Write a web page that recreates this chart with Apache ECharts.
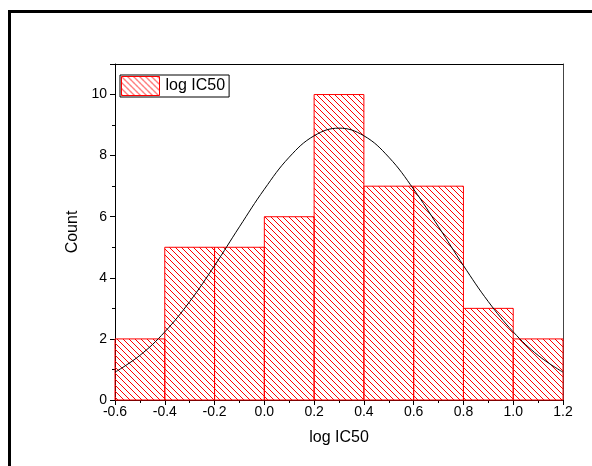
<!DOCTYPE html>
<html><head><meta charset="utf-8">
<script src="https://cdn.jsdelivr.net/npm/echarts@6/dist/echarts.min.js"></script>
<style>html,body{margin:0;padding:0;background:#fff}#c{width:592px;height:466px}</style>
</head><body><div id="c"></div>
<script>
// histogram bins
const binStarts = [-0.6, -0.4, -0.2, 0.0, 0.2, 0.4, 0.6, 0.8, 1.0];
const binEnds   = [-0.4, -0.2, 0.0, 0.2, 0.4, 0.6, 0.8, 1.0, 1.2];
const counts    = [2, 5, 5, 6, 10, 7, 7, 3, 2];
// fitted curve
const curveX = [-0.6, -0.5, -0.4, -0.3, -0.2, -0.1, 0.0, 0.1, 0.2, 0.3, 0.4, 0.5, 0.6, 0.7, 0.8, 0.9, 1.0, 1.1, 1.2];
const curveY = [0.91, 1.46, 2.23, 3.22, 4.40, 5.67, 6.90, 7.95, 8.65, 8.90, 8.65, 7.95, 6.90, 5.67, 4.40, 3.22, 2.23, 1.46, 0.91];
const xTicks = [-0.6, -0.4, -0.2, 0.0, 0.2, 0.4, 0.6, 0.8, 1.0, 1.2];
const yTicks = [0, 2, 4, 6, 8, 10];

function hatch() {
  const s = 6;
  const cv = document.createElement('canvas');
  cv.width = s; cv.height = s;
  const g = cv.getContext('2d');
  g.fillStyle = '#ff0000';
  for (let i = 0; i < s; i++) {
    g.fillRect(i, i, 1, 1);
  }
  return cv;
}
const pattern = { image: hatch(), repeat: 'repeat' };

const barData = binStarts.map((s, i) => [s, binEnds[i], counts[i]]);
const lineData = curveX.map((x, i) => [x, curveY[i]]);

const chart = echarts.init(document.getElementById('c'));
const font = 'Arial, "Liberation Sans", sans-serif';
chart.setOption({
  animation: false,
  backgroundColor: '#fff',
  grid: { left: 115, right: 29, top: 64, bottom: 66 },
  legend: {
    left: 120, top: 75,
    data: [{ name: 'log IC50', icon: 'rect',
      itemStyle: { color: pattern, borderColor: '#ff0000', borderWidth: 1 } }],
    itemWidth: 38, itemHeight: 19, itemGap: 0,
    borderColor: '#000', borderWidth: 1, padding: [1, 4, 1, 1],
    textStyle: { fontFamily: font, fontSize: 16, color: '#000', padding: [0, 0, 0, 1] }
  },
  xAxis: [{
    type: 'value', min: -0.6, max: 1.2, interval: 0.2,
    name: 'log IC50', nameLocation: 'middle', nameGap: 30,
    nameTextStyle: { fontFamily: font, fontSize: 16, color: '#000' },
    axisLine: { onZero: false, lineStyle: { color: '#000', width: 1 } },
    axisTick: { show: true, inside: false, length: 5, lineStyle: { color: '#000' } },
    minorTick: { show: true, splitNumber: 2, length: 3, lineStyle: { color: '#000' } },
    axisLabel: { fontFamily: font, fontSize: 14, color: '#000', margin: 5,
      formatter: v => v.toFixed(1) },
    splitLine: { show: false }
  }, {
    type: 'value', position: 'top', min: -0.6, max: 1.2,
    axisLine: { show: true, onZero: false, lineStyle: { color: '#000', width: 1 } },
    axisTick: { show: false }, axisLabel: { show: false }, splitLine: { show: false }
  }],
  yAxis: [{
    type: 'value', min: 0, max: 11, interval: 2,
    name: 'Count', nameLocation: 'middle', nameGap: 30,
    nameTextStyle: { fontFamily: font, fontSize: 16, color: '#000' },
    axisLine: { show: true, onZero: false, lineStyle: { color: '#000', width: 1 } },
    axisTick: { show: true, length: 5, lineStyle: { color: '#000' } },
    minorTick: { show: true, splitNumber: 2, length: 3, lineStyle: { color: '#000' } },
    axisLabel: { fontFamily: font, fontSize: 14, color: '#000', margin: 8,
      formatter: v => (v % 2 === 0 && v <= 10) ? String(v) : '' },
    splitLine: { show: false }
  }, {
    type: 'value', position: 'right', min: 0, max: 11,
    axisLine: { show: true, onZero: false, lineStyle: { color: '#444', width: 1 } },
    axisTick: { show: false }, axisLabel: { show: false }, splitLine: { show: false }
  }],
  series: [{
    name: 'log IC50',
    type: 'custom',
    itemStyle: { color: pattern, borderColor: '#ff0000', borderWidth: 1 },
    encode: { x: [0, 1], y: 2 },
    data: barData,
    renderItem: function (params, api) {
      const p0 = api.coord([api.value(0), api.value(2)]);
      const p1 = api.coord([api.value(1), 0]);
      return {
        type: 'rect',
        shape: { x: p0[0], y: p0[1], width: p1[0] - p0[0], height: p1[1] - p0[1] },
        style: { fill: pattern, stroke: '#ff0000', lineWidth: 1 }
      };
    },
    z: 2
  }, {
    name: 'fit',
    type: 'line',
    data: lineData,
    smooth: 0.4,
    showSymbol: false,
    lineStyle: { color: '#000', width: 1 },
    z: 3
  }],
  graphic: [{
    type: 'rect',
    shape: { x: 9.5, y: 11.5, width: 800, height: 800 },
    style: { fill: 'none', stroke: '#000', lineWidth: 3 },
    silent: true, z: 100
  }]
});
</script></body></html>
